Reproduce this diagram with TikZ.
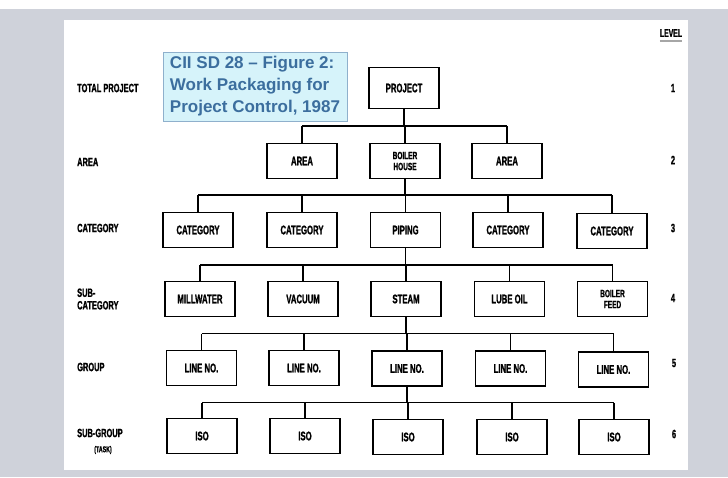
\documentclass[tikz,border=0pt]{standalone}
\usepackage{fontspec}
\newfontfamily\boxfont[FakeStretch=0.62,FakeBold=1.2]{Liberation Sans}
\newfontfamily\titlefont{Liberation Sans}
\definecolor{bggray}{HTML}{CFD2DA}
\definecolor{titlefill}{HTML}{D6F3FA}
\definecolor{titleedge}{HTML}{8FB0CC}
\definecolor{titletext}{HTML}{3C6E9E}
\tikzset{
  wbs/.style={draw, line width=1.8pt, minimum width=70pt, minimum height=35pt,
    inner sep=0pt, align=center, font=\boxfont\bfseries\fontsize{12.5}{10}\selectfont},
  wbstwo/.style={wbs, font=\boxfont\bfseries\fontsize{10.5}{11}\selectfont},
  rowlbl/.style={anchor=west, inner sep=0pt, align=left,
    font=\boxfont\bfseries\fontsize{12}{12.5}\selectfont},
  lvlnum/.style={inner sep=0pt, font=\boxfont\bfseries\fontsize{12}{12}\selectfont},
  conn/.style={line width=1.7pt}
}
\begin{document}
\begin{tikzpicture}[x=1pt,y=-1pt]
\useasboundingbox (0,0) rectangle (728,477);
\fill[bggray] (0,9) rectangle (728,477);
\fill[white] (0,0) rectangle (728,9);
\fill[white] (64,20) rectangle (688,470);

% title box
\node[draw=titleedge, line width=1pt, fill=titlefill, minimum width=184pt, minimum height=69pt,
  inner sep=0pt, align=left, text=titletext,
  font=\titlefont\bfseries\fontsize{17}{22}\selectfont] (title) at (255,86.5)
  {CII SD 28 – Figure 2:\\Work Packaging for\\Project Control, 1987};

% level 1
\node[wbs, minimum height=41pt] (p1) at (404,88) {PROJECT};
% level 2
\node[wbs] (a1) at (302,161) {AREA};
\node[wbstwo] (a2) at (405,161) {BOILER\\HOUSE};
\node[wbs] (a3) at (507,161) {AREA};
% level 3
\node[wbs] (c1) at (198,230) {CATEGORY};
\node[wbs] (c2) at (302,230) {CATEGORY};
\node[wbs] (c3) at (405.5,230) {PIPING};
\node[wbs] (c4) at (508,230) {CATEGORY};
\node[wbs] (c5) at (612,231) {CATEGORY};
% level 4
\node[wbs] (s1) at (200,299) {MILLWATER};
\node[wbs] (s2) at (303,299) {VACUUM};
\node[wbs] (s3) at (406,299) {STEAM};
\node[wbs] (s4) at (509.5,299) {LUBE OIL};
\node[wbstwo] (s5) at (612.5,299) {BOILER\\FEED};
% level 5
\node[wbs] (g1) at (201.5,368) {LINE NO.};
\node[wbs] (g2) at (304,368) {LINE NO.};
\node[wbs] (g3) at (407,368.5) {LINE NO.};
\node[wbs] (g4) at (510.5,368.5) {LINE NO.};
\node[wbs] (g5) at (613.5,369.5) {LINE NO.};
% level 6
\node[wbs] (t1) at (202,436) {ISO};
\node[wbs] (t2) at (305,436) {ISO};
\node[wbs] (t3) at (408,437) {ISO};
\node[wbs] (t4) at (512,437) {ISO};
\node[wbs] (t5) at (614,437) {ISO};

% bus coordinates
\coordinate (b2) at (0,126);
\coordinate (b3) at (0,195);
\coordinate (b4) at (0,265);
\coordinate (b5) at (0,333.5);
\coordinate (b6) at (0,402.5);

% connectors level 1 -> 2
\draw[conn] (p1.south) -- (p1.south |- b2);
\draw[conn] (a1.north |- b2) -- (a3.north |- b2);
\foreach \n in {a1,a2,a3} \draw[conn] (\n.north) -- (\n.north |- b2);
% level 2 -> 3
\draw[conn] (a2.south) -- (a2.south |- b3);
\draw[conn] (c1.north |- b3) -- (c5.north |- b3);
\foreach \n in {c1,c2,c3,c4,c5} \draw[conn] (\n.north) -- (\n.north |- b3);
% level 3 -> 4
\draw[conn] (c3.south) -- (c3.south |- b4);
\draw[conn] (s1.north |- b4) -- (s5.north |- b4);
\foreach \n in {s1,s2,s3,s4,s5} \draw[conn] (\n.north) -- (\n.north |- b4);
% level 4 -> 5
\draw[conn] (s3.south) -- (s3.south |- b5);
\draw[conn] (g1.north |- b5) -- (g5.north |- b5);
\foreach \n in {g1,g2,g3,g4,g5} \draw[conn] (\n.north) -- (\n.north |- b5);
% level 5 -> 6
\draw[conn] (g3.south) -- (g3.south |- b6);
\draw[conn] (t1.north |- b6) -- (t5.north |- b6);
\foreach \n in {t1,t2,t3,t4,t5} \draw[conn] (\n.north) -- (\n.north |- b6);

% row labels
\node[rowlbl] (r1) at (77,88) {TOTAL PROJECT};
\node[rowlbl] (r2) at (77,162) {AREA};
\node[rowlbl] (r3) at (77,228) {CATEGORY};
\node[rowlbl] (r4) at (77,299) {SUB-\\CATEGORY};
\node[rowlbl] (r5) at (77,367) {GROUP};
\node[rowlbl] (r6) at (77,433) {SUB-GROUP};
\node[inner sep=0pt, font=\boxfont\bfseries\fontsize{8.5}{8}\selectfont] (r6b) at (103,450) {(TASK)};

% level column
\node[lvlnum, font=\boxfont\bfseries\fontsize{11}{10}\selectfont] (lv) at (671,33) {LEVEL};
\draw[line width=2.5pt, gray!70] ([yshift=-4pt]lv.south west) -- ([yshift=-4pt]lv.south east);
\node[lvlnum] (n1) at (673,88) {1};
\node[lvlnum] (n2) at (673,160) {2};
\node[lvlnum] (n3) at (673,228) {3};
\node[lvlnum] (n4) at (673,298) {4};
\node[lvlnum] (n5) at (674,363) {5};
\node[lvlnum] (n6) at (674,434) {6};
\end{tikzpicture}
\end{document}
